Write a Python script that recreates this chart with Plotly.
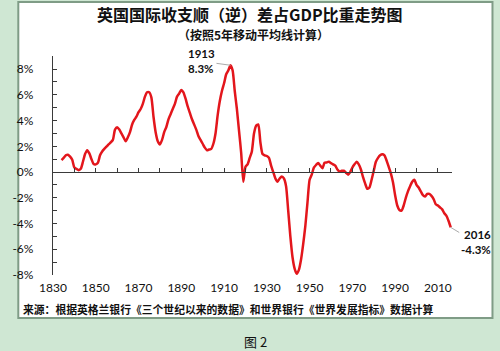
import plotly.graph_objects as go

years = list(range(1834, 2017))
values = [
    0.93, 1.1, 1.3, 1.35, 1.2, 0.95, 0.35, 0.25, 0.15, 0.25,  # 1834-1843
    0.8, 1.4, 1.7, 1.45, 1.0, 0.62, 0.6, 0.72, 1.3, 1.6,      # 1844-1853
    1.8, 1.97, 2.15, 2.3, 2.5, 3.3, 3.48, 3.3, 3.0, 2.7,      # 1854-1863
    2.4, 2.7, 3.1, 3.7, 4.05, 4.3, 4.65, 4.9, 5.3, 5.86,      # 1864-1873
    6.2, 6.2, 5.8, 4.3, 3.1, 2.4, 2.15, 2.5, 3.1, 3.5,        # 1874-1883
    4.1, 4.5, 4.9, 5.3, 5.86, 6.1, 6.38, 6.2, 5.7, 5.1,       # 1884-1893
    4.6, 4.1, 3.7, 3.3, 2.8, 2.5, 2.2, 1.9, 1.7, 1.75,        # 1894-1903
    1.8, 2.2, 3.0, 4.4, 5.5, 6.3, 6.9, 7.6, 7.9, 8.3,         # 1904-1913
    7.9, 6.3, 4.9, 3.2, 1.5, -0.75, 0.4, 0.6, 1.1, 1.6,       # 1914-1923
    3.0, 3.6, 3.7, 2.3, 1.4, 1.3, 1.25, 1.1, 0.5, 0.0,        # 1924-1933
    -0.5, -0.75, -0.5, -0.35, -0.5, -1.1, -3.0, -5.0, -6.6, -7.5,  # 1934-1943
    -7.9, -7.6, -6.8, -5.6, -4.2, -2.4, -0.6, -0.2, 0.35, 0.55,    # 1944-1953
    0.7, 0.5, 0.3, 0.72, 0.75, 0.8, 0.7, 0.6, 0.5, 0.2,       # 1954-1963
    0.05, 0.1, 0.1, -0.05, -0.2, 0.0, 0.35, 0.6, 0.8, 0.6,    # 1964-1973
    0.2, -0.4, -0.9, -1.3, -1.2, -0.6, 0.1, 0.8, 1.1, 1.3,    # 1974-1983
    1.38, 1.3, 0.9, 0.4, -0.1, -0.8, -1.8, -2.6, -2.95, -3.0, # 1984-1993
    -2.6, -2.0, -1.5, -1.1, -0.75, -0.6, -1.0, -1.2, -1.5, -1.8,  # 1994-2003
    -1.9, -1.7, -1.7, -1.85, -2.1, -2.5, -2.6, -2.75, -2.9, -3.2, # 2004-2013
    -3.4, -3.8, -4.3,                                          # 2014-2016
]

y_tickvals = [-8, -6, -4, -2, 0, 2, 4, 6, 8]
y_ticktext = ["-8%", "-6%", "-4%", "-2%", "0%", "2%", "4%", "6%", "8%"]
x_tickvals = list(range(1830, 2011, 10))
x_ticktext = [str(v) if (v - 1830) % 20 == 0 else "" for v in x_tickvals]

title = "英国国际收支顺（逆）差占GDP比重走势图"
subtitle = "（按照5年移动平均线计算）"
source = "来源：根据英格兰银行《三个世纪以来的数据》和世界银行《世界发展指标》数据计算"
fig_label = "图 2"

XR = [1830, 2016.6]
YR = [-8, 9.02]
CJK = "Noto Sans CJK SC"
NUM = "Lato, Noto Sans CJK SC"
AXC = "#3a3a3a"


def px_x(p):
    return (p - 38) / 414


def px_y(p):
    return (275 - p) / 219


fig = go.Figure()
fig.add_trace(go.Scatter(x=years, y=values, mode="lines",
                         line=dict(color="#e3161c", width=2.5, shape="spline", smoothing=0.6),
                         hoverinfo="skip", showlegend=False))

fig.update_layout(
    width=500, height=351,
    margin=dict(l=38, r=48, t=56, b=76),
    paper_bgcolor="#cfe7d3",
    plot_bgcolor="rgba(0,0,0,0)",
    xaxis=dict(range=XR, anchor="free", position=(0 - YR[0]) / (YR[1] - YR[0]),
               showgrid=False, zeroline=False, showline=True, linecolor=AXC, linewidth=1.3,
               tickmode="array", tickvals=x_tickvals, ticktext=x_ticktext,
               ticks="inside", ticklen=4, tickcolor=AXC, tickwidth=1.2,
               tickfont=dict(family=NUM, size=12, color="#111"), ticklabelstandoff=104),
    yaxis=dict(range=YR, showgrid=False, zeroline=False, showline=True, linecolor=AXC, linewidth=1.3,
               tickmode="array", tickvals=y_tickvals, ticktext=y_ticktext,
               ticks="inside", ticklen=4, tickcolor=AXC, tickwidth=1.2,
               minor=dict(ticks="inside", ticklen=4, tickcolor=AXC, tickwidth=1.2, tickmode="linear", tick0=0, dtick=1),
               tickfont=dict(family=NUM, size=12, color="#111"), ticklabelstandoff=16),
    shapes=[dict(type="rect", xref="paper", yref="paper", layer="below",
                 x0=px_x(2), x1=px_x(494), y0=px_y(318), y1=px_y(2),
                 fillcolor="white", line=dict(color="#7f9c86", width=2))],
    annotations=[
        dict(text="<b>" + title + "</b>", xref="paper", yref="paper",
             x=px_x(242), y=px_y(14), xanchor="center", yanchor="middle", showarrow=False,
             font=dict(family=CJK, size=16, color="#111")),
        dict(text="<b>" + subtitle + "</b>", xref="paper", yref="paper",
             x=px_x(246), y=px_y(34.5), xanchor="center", yanchor="middle", showarrow=False,
             font=dict(family=CJK, size=12, color="#111")),
        dict(text="<b>" + source + "</b>", xref="paper", yref="paper",
             x=px_x(5), y=px_y(309), xanchor="left", yanchor="middle", showarrow=False,
             font=dict(family=CJK, size=10.8, color="#111")),
        dict(text=fig_label, xref="paper", yref="paper",
             x=px_x(248), y=px_y(341), xanchor="center", yanchor="middle", showarrow=False,
             font=dict(family=CJK, size=13, color="#111")),
        dict(text="<b>1913<br>8.3%</b>", x=years[1913 - 1834], y=values[1913 - 1834],
             xref="x", yref="y", showarrow=True, arrowhead=0, arrowwidth=1, arrowcolor="#aaaaaa",
             ax=-29, ay=-4, font=dict(family=NUM, size=11.5, color="#111"), align="left"),
        dict(text="<b>2016<br>-4.3%</b>", x=years[-1], y=values[-1],
             xref="x", yref="y", showarrow=True, arrowhead=0, arrowwidth=1, arrowcolor="#aaaaaa",
             ax=25, ay=15, font=dict(family=NUM, size=11.5, color="#111"), align="right"),
    ],
)

fig.write_html("out.html")
